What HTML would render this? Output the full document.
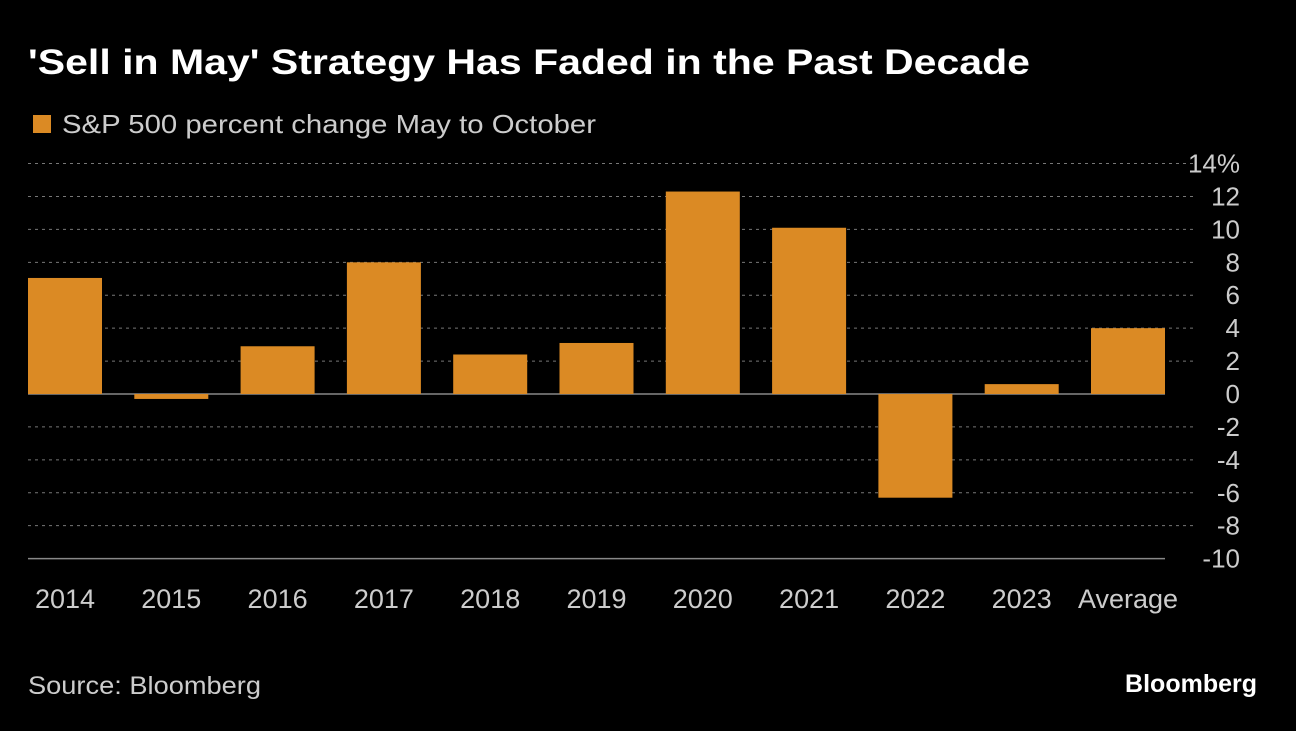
<!DOCTYPE html>
<html><head><meta charset="utf-8"><style>
body{margin:0;background:#000;width:1296px;height:726px;overflow:hidden;font-family:"Liberation Sans",sans-serif;}
svg text{font-family:"Liberation Sans",sans-serif;}
</style></head><body>
<svg width="1296" height="726" xmlns="http://www.w3.org/2000/svg">
<rect width="1296" height="726" fill="#000"/>
<text x="28" y="74" fill="#fff" font-size="35" font-weight="bold" textLength="1002" lengthAdjust="spacingAndGlyphs">'Sell in May' Strategy Has Faded in the Past Decade</text>
<rect x="33" y="115" width="18" height="18" fill="#db8a24"/>
<text x="62" y="133" fill="#ccc" font-size="26" textLength="534" lengthAdjust="spacingAndGlyphs">S&amp;P 500 percent change May to October</text>
<g id="grid"></g><g id="bars"></g><g id="labels"></g>
<text x="28" y="694" fill="#ccc" font-size="25" textLength="233" lengthAdjust="spacingAndGlyphs">Source: Bloomberg</text>
<text x="1257" y="692" fill="#fff" font-size="25" font-weight="bold" text-anchor="end">Bloomberg</text>
</svg>
<script>
const categories=["2014","2015","2016","2017","2018","2019","2020","2021","2022","2023","Average"];
const values=[7.05,-0.3,2.9,8.0,2.4,3.1,12.3,10.1,-6.3,0.6,4.0];
const ticks=[14,12,10,8,6,4,2,0,-2,-4,-6,-8,-10];
const tickLabels=["14%","12","10","8","6","4","2","0","-2","-4","-6","-8","-10"];
const NS="http://www.w3.org/2000/svg";
const y=v=>394-v*16.46;
const x=i=>65+i*106.3;
const grid=document.getElementById('grid'),bars=document.getElementById('bars'),labels=document.getElementById('labels');
ticks.forEach((t,i)=>{
 const l=document.createElementNS(NS,'line');
 l.setAttribute('x1',28);l.setAttribute('x2',t===0||t===-10?1165:1195);
 l.setAttribute('y1',y(t));l.setAttribute('y2',y(t));
 if(t===0||t===-10){l.setAttribute('stroke','#888');l.setAttribute('stroke-width','1.5');}
 else{l.setAttribute('stroke','#777');l.setAttribute('stroke-dasharray','3,4');}
 
 
 grid.appendChild(l);
 const tx=document.createElementNS(NS,'text');
 tx.setAttribute('x',1240);tx.setAttribute('y',y(t)+9);tx.setAttribute('text-anchor','end');
 tx.setAttribute('fill','#ccc');tx.setAttribute('font-size','26');tx.textContent=tickLabels[i];
 
 
 labels.appendChild(tx);
});
categories.forEach((c,i)=>{
 const v=values[i];
 const r=document.createElementNS(NS,'rect');
 r.setAttribute('x',x(i)-37);r.setAttribute('width',74);
 r.setAttribute('y',Math.min(y(v),y(0)));r.setAttribute('height',Math.abs(y(v)-y(0)));
 r.setAttribute('fill','#db8a24');
 
 
 bars.appendChild(r);
 const tx=document.createElementNS(NS,'text');
 tx.setAttribute('x',x(i));tx.setAttribute('y',608);tx.setAttribute('text-anchor','middle');
 tx.setAttribute('fill','#ccc');tx.setAttribute('font-size','27');tx.textContent=c;
 
 
 labels.appendChild(tx);
});
</script>
</body></html>
